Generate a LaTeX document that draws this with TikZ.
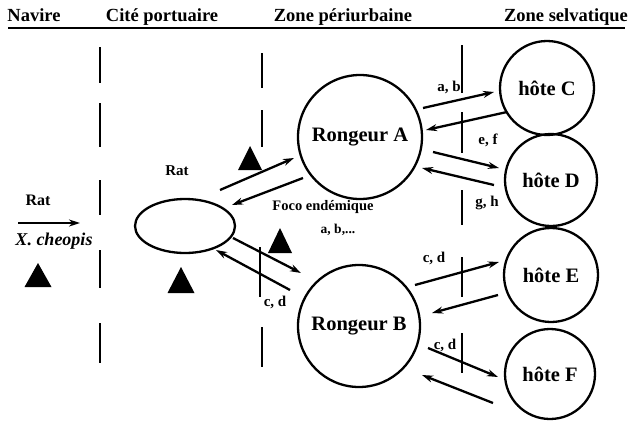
\documentclass[tikz,border=0pt]{standalone}
\usepackage{fontspec}
\setmainfont{Liberation Serif}
\usetikzlibrary{arrows.meta,shapes.geometric}
\tikzset{
  hdr/.style={font=\fontsize{18.5}{20}\selectfont\bfseries, inner sep=0pt, anchor=base},
  lbl/.style={font=\fontsize{20.5}{22}\selectfont\bfseries, inner sep=0pt},
  small/.style={font=\fontsize{15}{17}\selectfont\bfseries, inner sep=0pt},
  tiny/.style={font=\fontsize{14.5}{16}\selectfont\bfseries, inner sep=0pt},
  host/.style={circle, draw, line width=2.3pt, inner sep=0pt},
  flow/.style={line width=2.3pt, -{Stealth[length=11pt,width=7pt]}},
  bound/.style={line width=2.4pt},
  thinbound/.style={line width=1.3pt},
  tri/.style={fill=black}
}
\begin{document}
\begin{tikzpicture}[x=1pt,y=-1pt]
\useasboundingbox (0,0) rectangle (632,421);
% header
\node[hdr] (h1) at (34,21) {Navire};
\node[hdr] (h2) at (162,21) {Cité portuaire};
\node[hdr] (h3) at (343,21) {Zone périurbaine};
\node[hdr] (h4) at (566,21) {Zone selvatique};
\draw[line width=1.6pt] (8,28) -- (625,28);
% boundaries
\foreach \a/\b in {47/83,103/147,180/215,250/288,323/363} \draw[bound] (100,\a) -- (100,\b);
\foreach \a/\b in {53/88,110/147,327/367} \draw[bound] (262,\a) -- (262,\b);
\draw[thinbound] (260,247) -- (260,297);
\foreach \a/\b in {45/93,112/153} \draw[thinbound] (462,\a) -- (462,\b);
\foreach \a/\b in {190/225,257/297,333/373} \draw[bound] (462,\a) -- (462,\b);
% nodes
\node[ellipse, draw, line width=2.3pt, minimum width=100pt, minimum height=54pt] (rat) at (185,226) {};
\node[host, minimum size=124pt, lbl] (A) at (360,137) {Rongeur A};
\node[host, minimum size=122pt, lbl] (B) at (359,326) {Rongeur B};
\node[host, minimum size=94pt, lbl] (C) at (547,88) {hôte C};
\node[host, minimum size=92pt, lbl] (D) at (551,180) {hôte D};
\node[host, minimum size=94pt, lbl] (E) at (551,275) {hôte E};
\node[host, minimum size=90pt, lbl] (F) at (550,374) {hôte F};
% texts
\node[small, font=\fontsize{16}{18}\selectfont\bfseries] (rat1) at (38,200) {Rat};
\node[small, font=\fontsize{18}{20}\selectfont\bfseries\itshape] (xch) at (54,241) {X. cheopis};
\node[small] (rat2) at (177,171) {Rat};
\node[tiny] (foco) at (323,207) {Foco endémique};
\node[tiny, font=\fontsize{13.5}{15}\selectfont\bfseries] (abx) at (338,230) {a, b,...};
\node[small] (lab) at (449,87) {a, b};
\node[small] (lef) at (488,140) {e, f};
\node[small] (lgh) at (487,203) {g, h};
\node[small] (lcd1) at (434,258) {c, d};
\node[small] (lcd2) at (445,345) {c, d};
\node[small] (lcd3) at (275,302) {c, d};
% arrow end points
\coordinate (n1) at (18,223); \coordinate (n2) at (80,223);
\coordinate (r1s) at (220,190); \coordinate (r1e) at (294,158);
\coordinate (r2s) at (303,178); \coordinate (r2e) at (232,205);
\coordinate (r3s) at (233,238); \coordinate (r3e) at (301,273);
\coordinate (r4s) at (290,290); \coordinate (r4e) at (216,250);
\coordinate (ac1) at (423,108); \coordinate (ac2) at (494,92);
\coordinate (ca1) at (507,112); \coordinate (ca2) at (426,130);
\coordinate (ad1) at (433,152); \coordinate (ad2) at (499,168);
\coordinate (da1) at (494,185); \coordinate (da2) at (422,168);
\coordinate (be1) at (415,285); \coordinate (be2) at (499,262);
\coordinate (eb1) at (498,295); \coordinate (eb2) at (432,313);
\coordinate (bf1) at (428,348); \coordinate (bf2) at (498,377);
\coordinate (fb1) at (493,403); \coordinate (fb2) at (422,375);
\draw[flow] (n1) -- (n2);
\draw[flow] (r1s) -- (r1e);
\draw[flow] (r2s) -- (r2e);
\draw[flow] (r3s) -- (r3e);
\draw[flow] (r4s) -- (r4e);
\draw[flow] (ac1) -- (ac2);
\draw[flow] (ca1) -- (ca2);
\draw[flow] (ad1) -- (ad2);
\draw[flow] (da1) -- (da2);
\draw[flow] (be1) -- (be2);
\draw[flow] (eb1) -- (eb2);
\draw[flow] (bf1) -- (bf2);
\draw[flow] (fb1) -- (fb2);
% triangles
\fill[tri] (38,263) -- (24.5,287) -- (51.5,287) -- cycle;
\fill[tri] (181,267) -- (167.5,293) -- (194.5,293) -- cycle;
\fill[tri] (250,146) -- (238,170) -- (262,170) -- cycle;
\fill[tri] (280,228) -- (268,253) -- (292,253) -- cycle;
\end{tikzpicture}
\end{document}
